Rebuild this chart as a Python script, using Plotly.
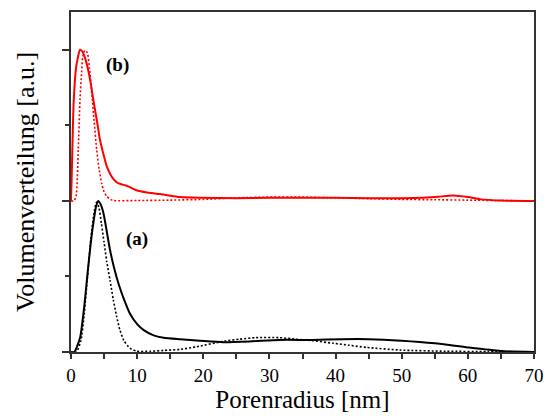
import plotly.graph_objects as go

# Pore radius distributions (radius in nm, volume distribution in a.u.)
# Sample (a): solid and dotted curves
a_solid_x = [0, 0.5, 0.9, 1.4, 2.0, 2.5, 3.0, 3.4, 3.8, 4.1, 4.5, 4.9, 5.4, 5.9, 6.5, 7.2,
             8.0, 8.9, 10, 11, 12.5, 14, 16.5, 19.5, 23, 27, 31.5, 36.5, 41, 45, 50, 55,
             60, 65, 70]
a_solid_y = [0, 0.0, 0.07, 0.2, 0.6, 1.04, 1.45, 1.72, 1.93, 2.0, 1.95, 1.84, 1.6, 1.35,
             1.12, 0.9, 0.7, 0.51, 0.37, 0.29, 0.22, 0.19, 0.17, 0.15, 0.13, 0.14, 0.16,
             0.16, 0.17, 0.17, 0.15, 0.115, 0.06, 0.013, 0]

a_dot_x = [0, 0.8, 1.5, 2.0, 2.5, 3.0, 3.5, 3.85, 4.2, 4.6, 5.0, 5.4, 5.9, 6.4, 6.9, 7.4,
           8.0, 8.9, 10, 12, 14, 16.5, 19, 23, 25.5, 28, 31.5, 34, 36.5, 39.7, 42, 44.7,
           49.7, 56.7, 63, 70]
a_dot_y = [0, 0, 0.15, 0.5, 1.0, 1.5, 1.85, 1.98, 1.92, 1.7, 1.45, 1.2, 0.95, 0.69, 0.47,
           0.29, 0.15, 0.05, 0.01, 0.01, 0.02, 0.035, 0.07, 0.14, 0.17, 0.19, 0.19, 0.17,
           0.15, 0.115, 0.09, 0.06, 0.026, 0.01, 0.005, 0]

# Sample (b): solid and dotted curves, drawn shifted upward by B_OFFSET
b_solid_x = [0, 0.1, 0.4, 0.76, 1.0, 1.36, 1.7, 1.97, 2.3, 2.6, 3.0, 3.37, 3.9, 4.38, 4.9,
             5.4, 5.9, 6.4, 7.0, 7.6, 8.4, 9.2, 9.9, 11.5, 13.5, 16.5, 19.5, 25, 30, 35,
             40, 45, 50, 53, 55.5, 57.8, 60, 62, 65, 70]
b_solid_y = [0, 0.3, 1.3, 1.76, 1.88, 2.0, 1.98, 1.93, 1.84, 1.73, 1.55, 1.34, 1.07, 0.81,
             0.62, 0.46, 0.36, 0.29, 0.24, 0.22, 0.20, 0.17, 0.14, 0.11, 0.09, 0.05, 0.04,
             0.035, 0.04, 0.04, 0.04, 0.035, 0.035, 0.04, 0.055, 0.07, 0.05, 0.02, 0.005, 0]

b_dot_x = [0, 0.4, 0.76, 1.1, 1.36, 1.6, 1.77, 2.1, 2.47, 2.8, 3.13, 3.5, 3.88, 4.25, 4.64,
           5.0, 5.4, 6.0, 6.4, 10, 15, 20, 25, 30, 35, 40, 45, 50, 55, 60, 65, 70]
b_dot_y = [0, 0, 0.06, 0.68, 1.34, 1.7, 1.91, 1.99, 1.96, 1.75, 1.43, 1.05, 0.68, 0.42,
           0.23, 0.12, 0.06, 0.02, 0.005, 0.005, 0.01, 0.02, 0.04, 0.05, 0.05, 0.04, 0.03,
           0.02, 0.015, 0.01, 0.005, 0]

B_OFFSET = 2.0

SERIF = "Liberation Serif, Times New Roman, serif"
RED = "#ff0000"
BLACK = "#000000"
DOTS = "2px,2px"

fig = go.Figure()


def add_curve(x, y, color, dash, width, offset=0.0):
    fig.add_trace(go.Scatter(
        x=x, y=[v + offset for v in y], mode="lines",
        line=dict(color=color, dash=dash, width=width, shape="spline", smoothing=0.6),
        showlegend=False, hoverinfo="skip",
    ))


add_curve(a_dot_x, a_dot_y, BLACK, DOTS, 1.6)
add_curve(a_solid_x, a_solid_y, BLACK, "solid", 2)
add_curve(b_dot_x, b_dot_y, RED, DOTS, 1.6, B_OFFSET)
add_curve(b_solid_x, b_solid_y, RED, "solid", 2, B_OFFSET)

fig.add_annotation(x=7.1, y=3.8, text="<b>(b)</b>", showarrow=False,
                   font=dict(family=SERIF, size=19, color=BLACK))
fig.add_annotation(x=10.0, y=1.5, text="<b>(a)</b>", showarrow=False,
                   font=dict(family=SERIF, size=19, color=BLACK))

fig.update_layout(
    width=547, height=416,
    margin=dict(l=71, r=13, t=12, b=64),
    plot_bgcolor="white", paper_bgcolor="white",
    font=dict(family=SERIF, color=BLACK),
)

fig.update_xaxes(
    range=[0, 70], dtick=10, tick0=0,
    ticks="outside", ticklen=5, tickwidth=1.5, tickcolor="#333",
    minor=dict(dtick=5, ticks="outside", ticklen=5, tickwidth=1.5, tickcolor="#333"),
    showline=True, linecolor="#333", linewidth=1.5, mirror=True,
    showgrid=False, zeroline=False, automargin=False,
    tickfont=dict(family=SERIF, size=19, color=BLACK),
    title=dict(text="Porenradius [nm]", font=dict(family=SERIF, size=25, color=BLACK),
               standoff=6),
)

fig.update_yaxes(
    range=[0, 4.5], dtick=2, tick0=0,
    ticks="outside", ticklen=7, tickwidth=1.5, tickcolor="#333",
    minor=dict(dtick=1, ticks="outside", ticklen=4, tickwidth=1.5, tickcolor="#333"),
    showticklabels=False, automargin=False,
    showline=True, linecolor="#333", linewidth=1.5, mirror=True,
    showgrid=False, zeroline=False,
    title=dict(text="Volumenverteilung [a.u.]", font=dict(family=SERIF, size=26, color=BLACK),
               standoff=20),
)

fig.write_html("out.html")
